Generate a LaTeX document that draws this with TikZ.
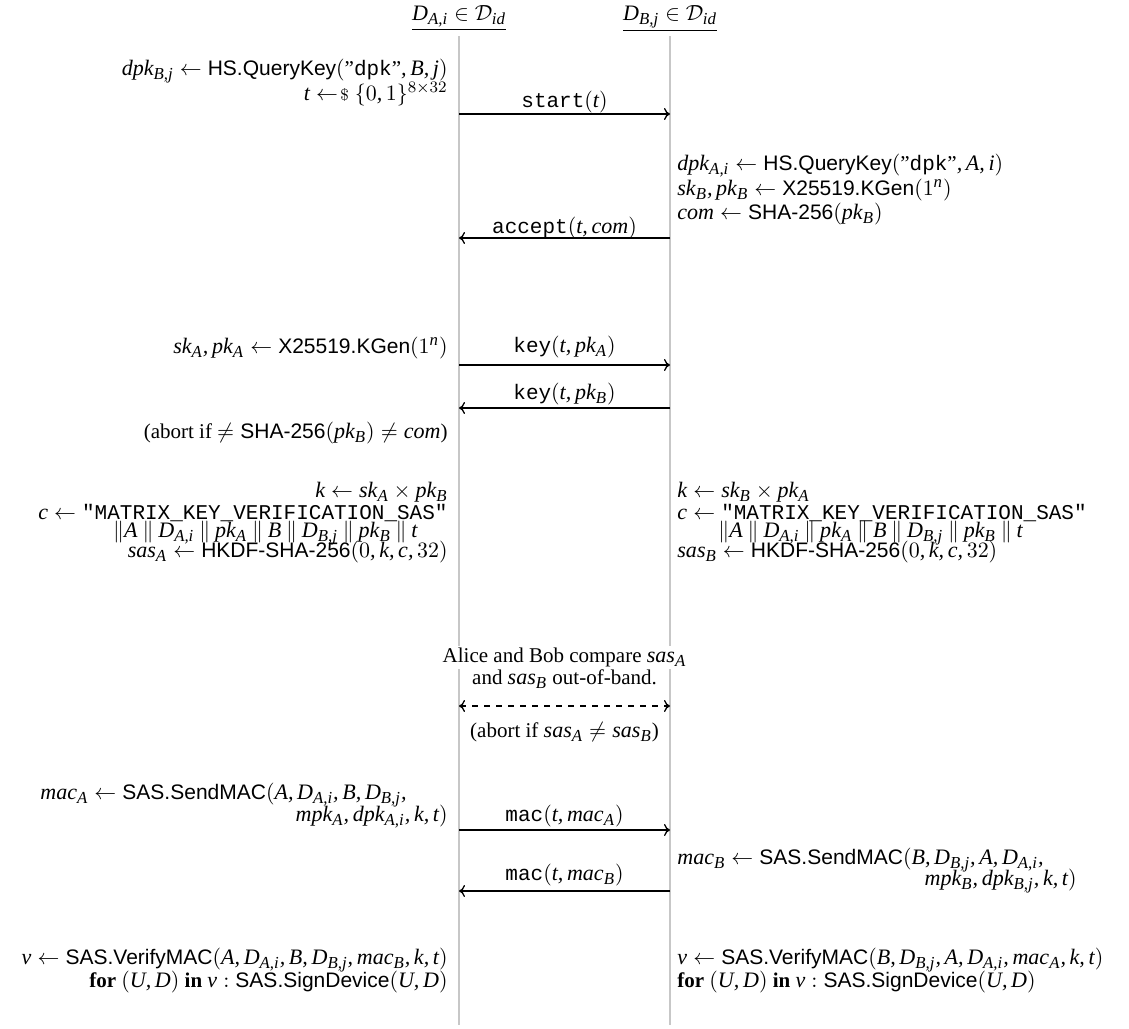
\documentclass[tikz,border=0pt]{standalone}
\usepackage{amsmath}
\usepackage{fontspec}
\usetikzlibrary{arrows.meta}
\setmainfont{Liberation Serif}
\setsansfont{Liberation Sans}
\setmonofont{Liberation Mono}
\newfontfamily\tmsfam[NFSSFamily=tms, Scale=1.05]{Liberation Serif}
\DeclareSymbolFont{letters}{TU}{tms}{m}{it}
\DeclareMathSymbol{,}{\mathpunct}{letters}{"2C}
\DeclareMathSizes{10.5}{10.5}{8}{6}
\newcommand{\proc}[1]{\textsf{#1}}
\newcommand{\mymsg}[1]{\texttt{#1}}
\newcommand{\smp}{\mathrel{\leftarrow\mkern-3mu{\scriptstyle\$}}}
\newcommand{\cc}{\mathbin{\|}}
\tikzset{
  life/.style={draw=black!22, line width=1pt},
  msgarrow/.style={-{To[length=3pt, width=6pt]}, line width=0.65pt},
  ltxt/.style={anchor=mid east, inner sep=0pt},
  rtxt/.style={anchor=mid west, inner sep=0pt},
  ctxt/.style={anchor=mid, inner sep=0pt},
  lbl/.style={anchor=mid, inner sep=0pt, midway},
}
\begin{document}
\begin{tikzpicture}[x=0.5pt, y=-0.5pt, font=\fontsize{10.5}{12}\selectfont]
\useasboundingbox (0,0) rectangle (1129,1028);
% headers
\node[ctxt] (ha) at (459,16) {\underline{$D_{A,i}\in\mathcal{D}_{id}$}};
\node[ctxt] (hb) at (670,16) {\underline{$D_{B,j}\in\mathcal{D}_{id}$}};
% lifelines
\coordinate (at) at (459,36); \coordinate (ab) at (459,1025);
\coordinate (bt) at (670,36); \coordinate (bb) at (670,1025);
\draw[life] (at) -- (ab);
\draw[life] (bt) -- (bb);
% step 1
\node[ltxt] (l1) at (448,71) {$dpk_{B,j} \leftarrow \proc{HS.QueryKey}(\text{''\texttt{dpk}''}, B, j)$};
\node[ltxt] (l2) at (448,96) {$t \smp \{0,1\}^{8\times 32}$};
\coordinate (a1) at (459,114); \coordinate (b1) at (670,114);
\draw[msgarrow] (a1) -- node[lbl, yshift=5.5pt] (m1) {\mymsg{start}$(t)$} (b1);
% step 2
\node[rtxt] (r1) at (677,166) {$dpk_{A,i} \leftarrow \proc{HS.QueryKey}(\text{''\texttt{dpk}''}, A, i)$};
\node[rtxt] (r2) at (677,191) {$sk_B, pk_B \leftarrow \proc{X25519.KGen}(1^n)$};
\node[rtxt] (r3) at (677,215) {$com \leftarrow \proc{SHA-256}(pk_B)$};
\coordinate (a2) at (459,238); \coordinate (b2) at (670,238);
\draw[msgarrow] (b2) -- node[lbl, yshift=4.5pt] (m2) {\mymsg{accept}$(t, com)$} (a2);
% step 3
\node[ltxt] (l3) at (448,349) {$sk_A, pk_A \leftarrow \proc{X25519.KGen}(1^n)$};
\coordinate (a3) at (459,365); \coordinate (b3) at (670,365);
\draw[msgarrow] (a3) -- node[lbl, yshift=8.5pt] (m3) {\mymsg{key}$(t, pk_A)$} (b3);
\coordinate (a4) at (459,408); \coordinate (b4) at (670,408);
\draw[msgarrow] (b4) -- node[lbl, yshift=6.5pt] (m4) {\mymsg{key}$(t, pk_B)$} (a4);
\node[ltxt] (l4) at (448,434) {(abort if $\neq \proc{SHA-256}(pk_B) \neq com$)};
% step 4
\node[ltxt] (l5) at (448,493) {$k \leftarrow sk_A \times pk_B$};
\node[ltxt] (l6) at (448,515) {$c \leftarrow \text{\texttt{"MATRIX\_KEY\_VERIFICATION\_SAS"}}$};
\node[ltxt] (l7) at (418,533) {$\|A \cc D_{A,i} \cc pk_A \cc B \cc D_{B,j} \cc pk_B \cc t$};
\node[ltxt] (l8) at (448,553) {$sas_A \leftarrow \proc{HKDF-SHA-256}(0, k, c, 32)$};
\node[rtxt] (r5) at (677,493) {$k \leftarrow sk_B \times pk_A$};
\node[rtxt] (r6) at (677,515) {$c \leftarrow \text{\texttt{"MATRIX\_KEY\_VERIFICATION\_SAS"}}$};
\node[rtxt] (r7) at (718,533) {$\|A \cc D_{A,i} \cc pk_A \cc B \cc D_{B,j} \cc pk_B \cc t$};
\node[rtxt] (r8) at (677,553) {$sas_B \leftarrow \proc{HKDF-SHA-256}(0, k, c, 32)$};
% step 5
\node[ctxt, fill=white, inner sep=1pt] (c1) at (564.5,658) {Alice and Bob compare $sas_A$};
\node[ctxt, fill=white, inner sep=1pt] (c2) at (564.5,680) {and $sas_B$ out-of-band.};
\coordinate (a5) at (459,706); \coordinate (b5) at (670,706);
\draw[{To[length=3pt, width=6pt]}-{To[length=3pt, width=6pt]}, dashed, line width=0.65pt] (a5) -- (b5);
\node[ctxt] (c3) at (564.5,733) {(abort if $sas_A \neq sas_B$)};
% step 6
\node[rtxt] (l9) at (40,795) {$mac_A \leftarrow \proc{SAS.SendMAC}(A, D_{A,i}, B, D_{B,j},$};
\node[ltxt] (l10) at (448,817) {$mpk_A, dpk_{A,i}, k, t)$};
\coordinate (a6) at (459,830); \coordinate (b6) at (670,830);
\draw[msgarrow] (a6) -- node[lbl, yshift=6.5pt] (m6) {\mymsg{mac}$(t, mac_A)$} (b6);
\node[rtxt] (r9) at (677,860) {$mac_B \leftarrow \proc{SAS.SendMAC}(B, D_{B,j}, A, D_{A,i},$};
\node[ltxt] (r10) at (1077,881) {$mpk_B, dpk_{B,j}, k, t)$};
\coordinate (a7) at (459,891); \coordinate (b7) at (670,891);
\draw[msgarrow] (b7) -- node[lbl, yshift=7.5pt] (m7) {\mymsg{mac}$(t, mac_B)$} (a7);
% step 7
\node[ltxt] (l11) at (448,960) {$v \leftarrow \proc{SAS.VerifyMAC}(A, D_{A,i}, B, D_{B,j}, mac_B, k, t)$};
\node[ltxt] (l12) at (448,983) {\textbf{for} $(U,D)$ \textbf{in} $v : \proc{SAS.SignDevice}(U,D)$};
\node[rtxt] (r11) at (677,960) {$v \leftarrow \proc{SAS.VerifyMAC}(B, D_{B,j}, A, D_{A,i}, mac_A, k, t)$};
\node[rtxt] (r12) at (677,983) {\textbf{for} $(U,D)$ \textbf{in} $v : \proc{SAS.SignDevice}(U,D)$};
\end{tikzpicture}
\end{document}
